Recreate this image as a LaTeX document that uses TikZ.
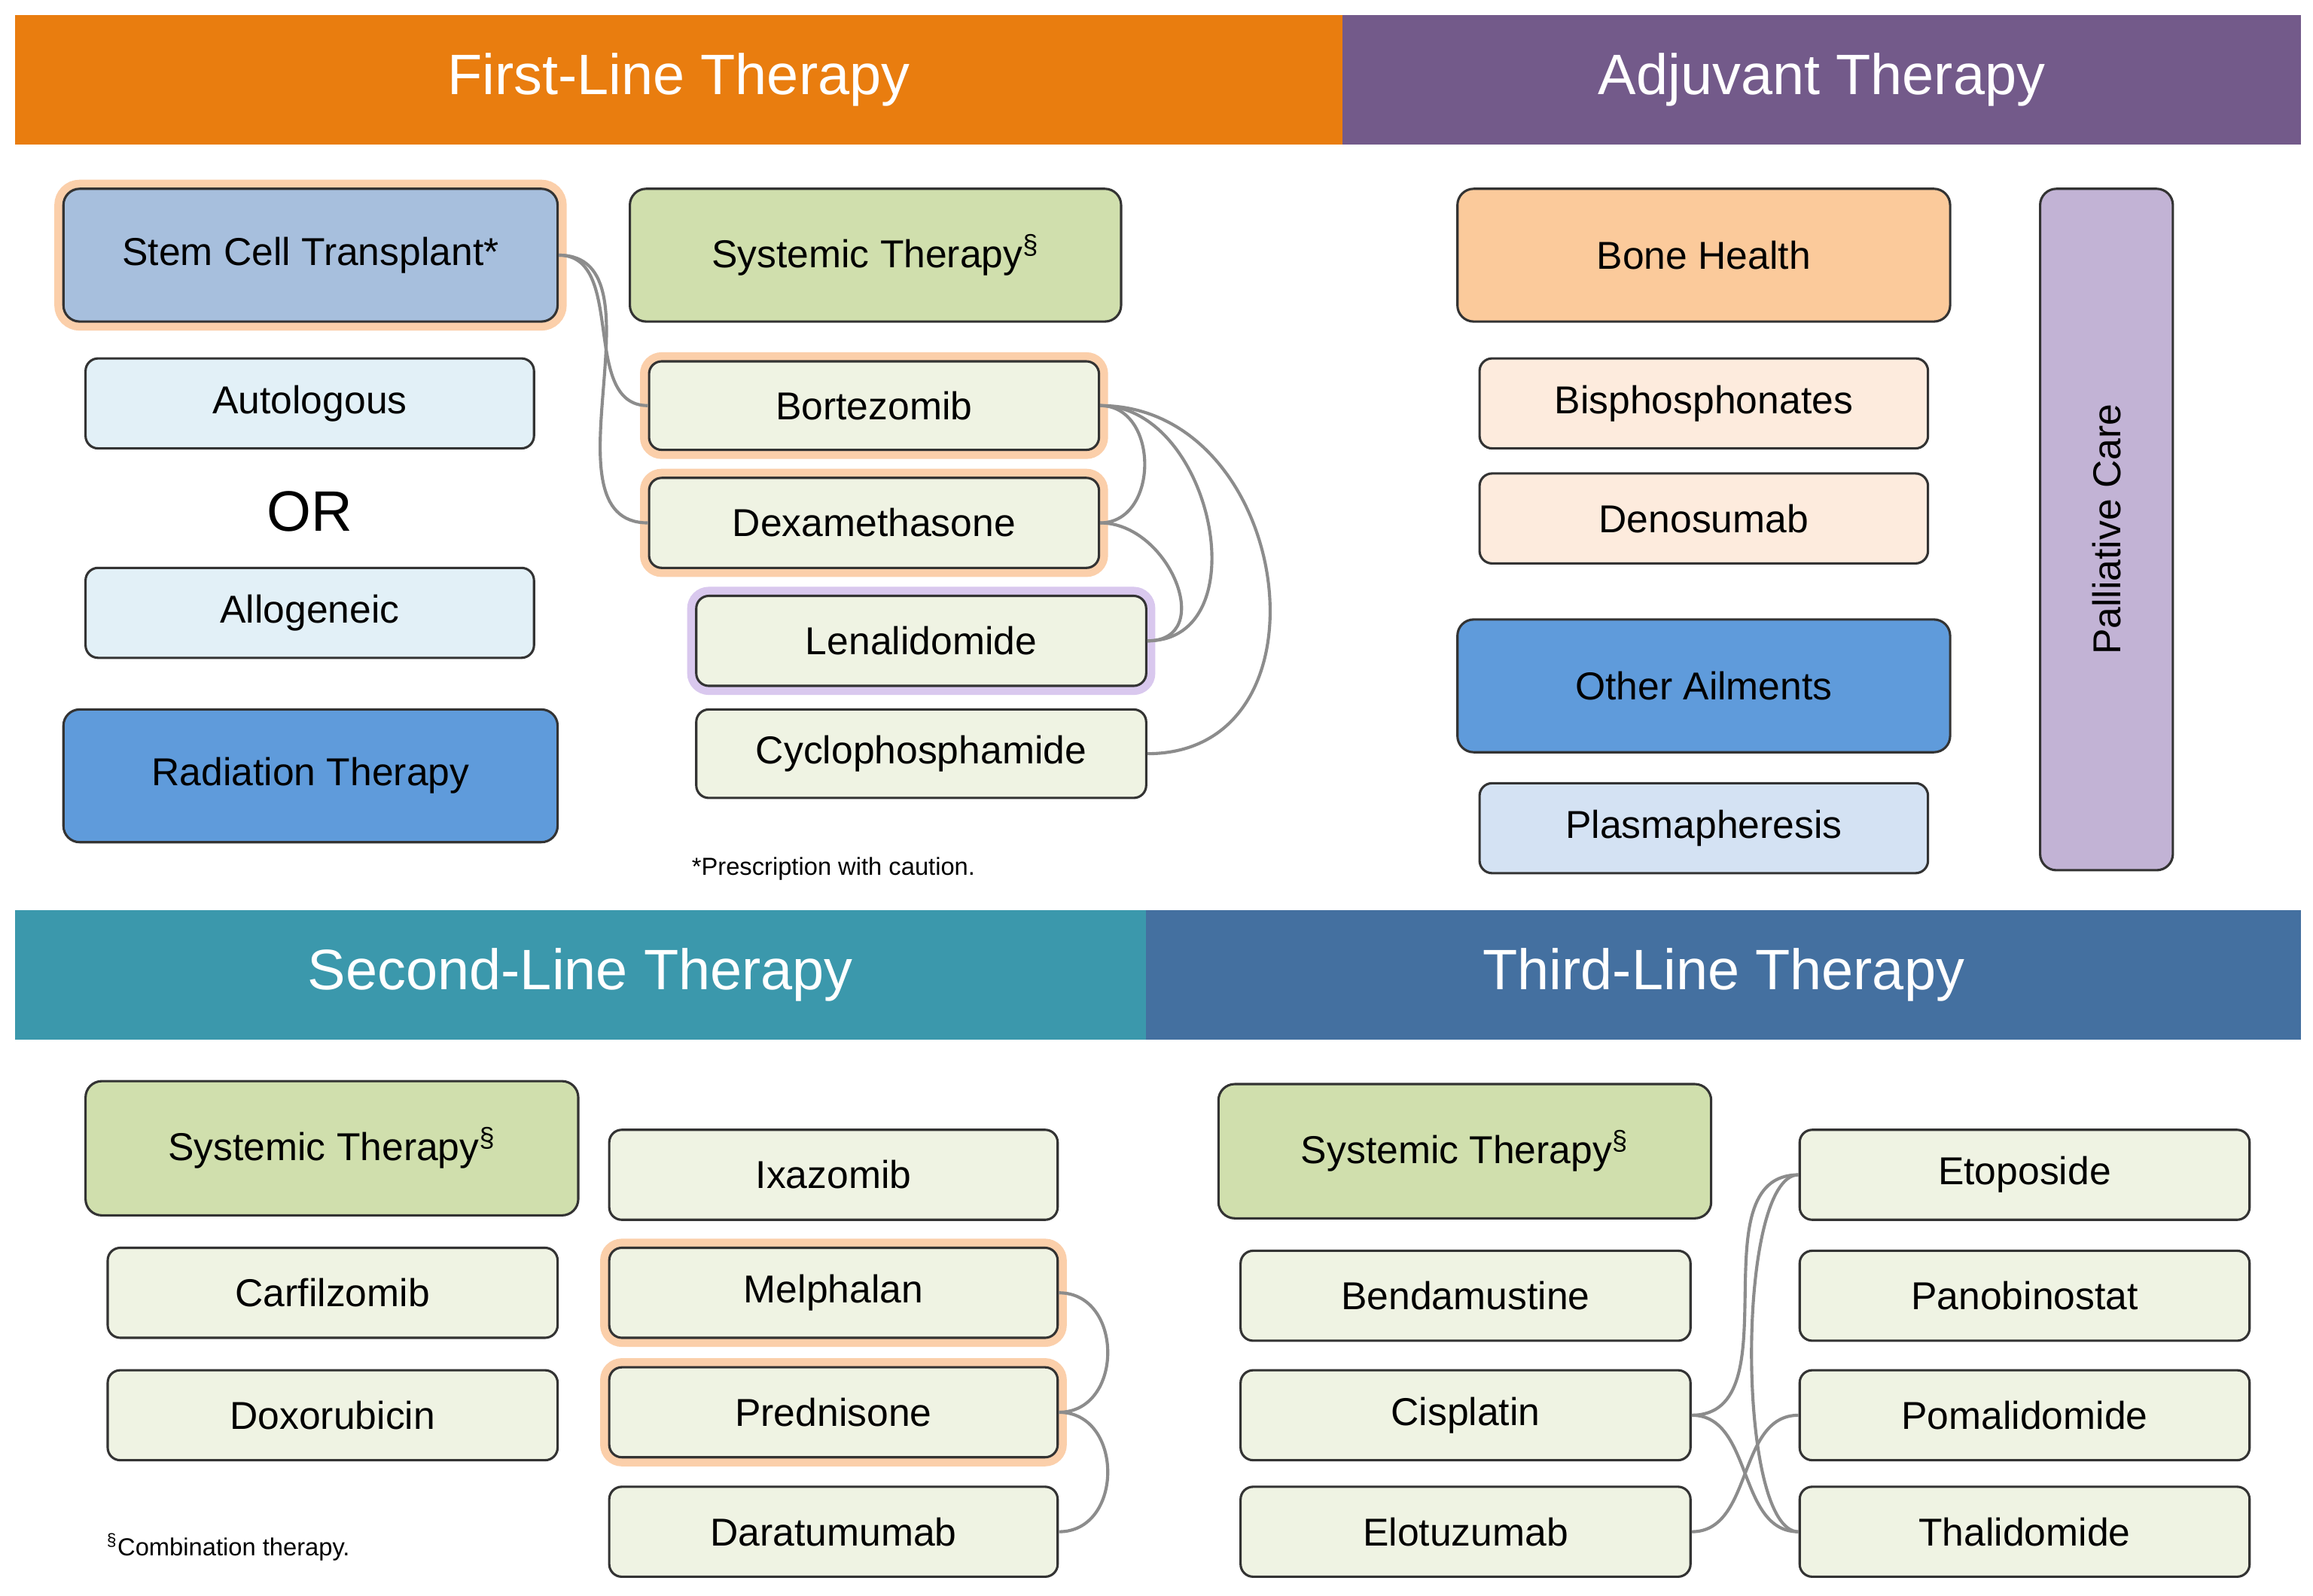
\documentclass[tikz,border=0pt]{standalone}
\usepackage{fontspec}
\setmainfont{Liberation Sans}
\begin{document}
\definecolor{hOrange}{HTML}{E97D0F}
\definecolor{hPurple}{HTML}{735A8A}
\definecolor{hTeal}{HTML}{3B98AC}
\definecolor{hBlue}{HTML}{4470A0}
\definecolor{cSct}{HTML}{A7BFDD}
\definecolor{cSys}{HTML}{D0DFAD}
\definecolor{cDrug}{HTML}{EFF3E3}
\definecolor{cAuto}{HTML}{E2F0F7}
\definecolor{cRad}{HTML}{5F9BDB}
\definecolor{cBone}{HTML}{FBCA9B}
\definecolor{cBis}{HTML}{FDEBDD}
\definecolor{cPlas}{HTML}{D4E2F3}
\definecolor{cPal}{HTML}{C2B3D5}
\definecolor{glowO}{HTML}{FBCFAA}
\definecolor{glowP}{HTML}{D9C8EE}
\newcommand\bx[7]{\node[#6, minimum width={(#4-#2)*0.02cm}, minimum height={(#5-#3)*0.02cm}] (#1) at ({(#2+#4)/2},{(#3+#5)/2}) {#7};}
\begin{tikzpicture}[x=0.02cm,y=-0.02cm,
  hdr/.style={inner sep=0, text=white, font=\fontsize{22}{26}\selectfont},
  box/.style={draw=black!80, line width=0.9pt, rounded corners=0.17cm, inner sep=0, font=\fontsize{15}{18}\selectfont},
  big/.style={box, rounded corners=0.22cm},
  og/.style={preaction={draw=glowO, line width=7pt}},
  pg/.style={preaction={draw=glowP, line width=7pt}},
  con/.style={draw=black!45, line width=1.2pt},
  note/.style={font=\fontsize{9.5}{11}\selectfont, inner sep=0}]
\useasboundingbox (0,0) rectangle (1568,1082);
\fill[white] (0,0) rectangle (1568,1082);
% headers
\bx{h1}{10}{10}{910}{98}{hdr,fill=hOrange}{First-Line Therapy}
\bx{h2}{910}{10}{1560}{98}{hdr,fill=hPurple}{Adjuvant Therapy}
\bx{h3}{10}{617}{777}{705}{hdr,fill=hTeal}{Second-Line Therapy}
\bx{h4}{777}{617}{1560}{705}{hdr,fill=hBlue}{Third-Line Therapy}
% first line
\bx{sct}{43}{128}{378}{218}{big,fill=cSct,og}{Stem Cell Transplant*}
\bx{sys1}{427}{128}{760}{218}{big,fill=cSys}{Systemic Therapy\textsuperscript{\S}}
\bx{auto}{58}{243}{362}{304}{box,fill=cAuto}{Autologous}
\node[font=\fontsize{22}{26}\selectfont, inner sep=0] (or) at (210,347) {OR};
\bx{allo}{58}{385}{362}{446}{box,fill=cAuto}{Allogeneic}
\bx{rad}{43}{481}{378}{571}{big,fill=cRad}{Radiation Therapy}
\bx{bort}{440}{245}{745}{305}{box,fill=cDrug,og}{Bortezomib}
\bx{dexa}{440}{324}{745}{385}{box,fill=cDrug,og}{Dexamethasone}
\bx{lena}{472}{404}{777}{465}{box,fill=cDrug,pg}{Lenalidomide}
\bx{cyc}{472}{481}{777}{541}{box,fill=cDrug}{Cyclophosphamide}
\node[note] (n1) at (565,589) {*Prescription with caution.};
% adjuvant
\bx{bone}{988}{128}{1322}{218}{big,fill=cBone}{Bone Health}
\bx{bis}{1003}{243}{1307}{304}{box,fill=cBis}{Bisphosphonates}
\bx{deno}{1003}{321}{1307}{382}{box,fill=cBis}{Denosumab}
\bx{oth}{988}{420}{1322}{510}{big,fill=cRad}{Other Ailments}
\bx{plas}{1003}{531}{1307}{592}{box,fill=cPlas}{Plasmapheresis}
\node[big, fill=cPal, minimum width=90*0.02cm, minimum height=462*0.02cm] (pal) at (1428,359) {};
\node[rotate=90, font=\fontsize{15}{18}\selectfont, inner sep=0] (palt) at (pal.center) {Palliative Care};
% second line
\bx{sys2}{58}{733}{392}{824}{big,fill=cSys}{Systemic Therapy\textsuperscript{\S}}
\bx{ixa}{413}{766}{717}{827}{box,fill=cDrug}{Ixazomib}
\bx{carf}{73}{846}{378}{907}{box,fill=cDrug}{Carfilzomib}
\bx{mel}{413}{846}{717}{907}{box,fill=cDrug,og}{Melphalan}
\bx{doxo}{73}{929}{378}{990}{box,fill=cDrug}{Doxorubicin}
\bx{pred}{413}{927}{717}{988}{box,fill=cDrug,og}{Prednisone}
\bx{dara}{413}{1008}{717}{1069}{box,fill=cDrug}{Daratumumab}
\node[note, anchor=west] (n2) at (72,1049) {\textsuperscript{\S}Combination therapy.};
% third line
\bx{sys3}{826}{735}{1160}{826}{big,fill=cSys}{Systemic Therapy\textsuperscript{\S}}
\bx{eto}{1220}{766}{1525}{827}{box,fill=cDrug}{Etoposide}
\bx{benda}{841}{848}{1146}{909}{box,fill=cDrug}{Bendamustine}
\bx{pano}{1220}{848}{1525}{909}{box,fill=cDrug}{Panobinostat}
\bx{cis}{841}{929}{1146}{990}{box,fill=cDrug}{Cisplatin}
\bx{poma}{1220}{929}{1525}{990}{box,fill=cDrug}{Pomalidomide}
\bx{elo}{841}{1008}{1146}{1069}{box,fill=cDrug}{Elotuzumab}
\bx{thal}{1220}{1008}{1525}{1069}{box,fill=cDrug}{Thalidomide}
% connectors
\draw[con] (sct.east) to[out=0,in=180] (bort.west);
\draw[con] (sct.east) to[out=0,in=180] (dexa.west);
\draw[con] (bort.east) to[out=0,in=0,looseness=1.3] (dexa.east);
\draw[con] (bort.east) to[out=0,in=0,looseness=1.2] (lena.east);
\draw[con] (dexa.east) to[out=0,in=0,looseness=1.4] (lena.east);
\draw[con] (bort.east) to[out=0,in=0,looseness=1.4] (cyc.east);
\draw[con] (mel.east) to[out=0,in=0,looseness=1.4] (pred.east);
\draw[con] (pred.east) to[out=0,in=0,looseness=1.4] (dara.east);
\draw[con] (cis.east) to[out=0,in=180] (eto.west);
\draw[con] (cis.east) to[out=0,in=180] (thal.west);
\draw[con] (elo.east) to[out=0,in=180] (poma.west);
\draw[con] (eto.west) to[out=180,in=180,looseness=0.45] (thal.west);
\end{tikzpicture}
\end{document}
